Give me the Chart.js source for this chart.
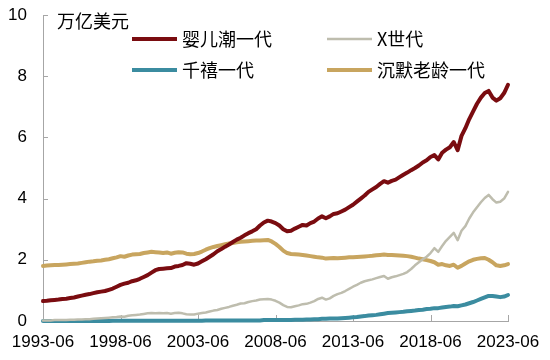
<!DOCTYPE html>
<html>
<head>
<meta charset="utf-8">
<script src="https://cdn.jsdelivr.net/npm/chart.js@4.4.0/dist/chart.umd.min.js"></script>
<style>
  html, body { margin: 0; padding: 0; background: #fff; }
  #wrap { width: 550px; height: 360px; }
</style>
</head>
<body>
<div id="wrap"><canvas id="mainChart" width="550" height="360"></canvas></div>
<script>
// --- Data (万亿美元, quarterly, 1993-06 .. 2023-06) ---
const FIRST_QUARTER = '1993-06';
const LAST_QUARTER = '2023-06';
const quarters = [];
for (let yr = 1993; yr <= 2023; yr++) {
  for (const m of ['03', '06', '09', '12']) {
    const q = yr + '-' + m;
    if (q >= FIRST_QUARTER && q <= LAST_QUARTER) quarters.push(q);
  }
}

const xTickLabels = ['1993-06', '1998-06', '2003-06', '2008-06', '2013-06', '2018-06', '2023-06'];
const yTickValues = [0, 2, 4, 6, 8, 10];
const unitLabel = '万亿美元';

const seriesNames = ['婴儿潮一代', 'X世代', '千禧一代', '沉默老龄一代'];

const babyBoomers = [
  0.65, 0.66, 0.68, 0.69,  0.70, 0.72, 0.73, 0.75,  0.77, 0.80, 0.83, 0.86,
  0.88, 0.91, 0.94, 0.96,  0.98, 1.02, 1.06, 1.12,  1.18, 1.22, 1.25, 1.30,
  1.33, 1.38, 1.44, 1.50,  1.58, 1.66, 1.70, 1.71,  1.72, 1.73, 1.78, 1.80,
  1.83, 1.89, 1.87, 1.84,  1.88, 1.95, 2.02, 2.10,  2.18, 2.28, 2.35, 2.43,
  2.50, 2.58, 2.66, 2.72,  2.80, 2.87, 2.93, 3.00,  3.12, 3.22, 3.28, 3.25,
  3.20, 3.12, 3.00, 2.93,  2.95, 3.02, 3.08, 3.14,  3.12, 3.20, 3.25, 3.35,
  3.42, 3.36, 3.42, 3.50,  3.52, 3.58, 3.64, 3.72,  3.80, 3.90, 4.00, 4.10,
  4.22, 4.30, 4.38, 4.48,  4.57, 4.52, 4.58, 4.62,  4.70, 4.78, 4.85, 4.93,
  5.00, 5.08, 5.18, 5.25,  5.36, 5.42, 5.28, 5.50,  5.60, 5.68, 5.85, 5.58,
  6.05, 6.30, 6.60, 6.85,  7.10, 7.30, 7.45, 7.52,  7.30, 7.20, 7.28, 7.45,
  7.72
];

const genX = [
  0.02, 0.02, 0.02, 0.03,  0.03, 0.03, 0.03, 0.04,  0.04, 0.05, 0.05, 0.06,
  0.06, 0.07, 0.08, 0.09,  0.10, 0.11, 0.12, 0.13,  0.15, 0.14, 0.17, 0.19,
  0.20, 0.21, 0.23, 0.25,  0.26, 0.25, 0.26, 0.25,  0.26, 0.24, 0.26, 0.27,
  0.25, 0.22, 0.21, 0.21,  0.24, 0.26, 0.28, 0.31,  0.34, 0.36, 0.40, 0.43,
  0.46, 0.50, 0.53, 0.57,  0.58, 0.62, 0.65, 0.67,  0.70, 0.71, 0.72, 0.70,
  0.66, 0.60, 0.52, 0.46,  0.45, 0.48, 0.51, 0.55,  0.56, 0.60, 0.65, 0.72,
  0.76, 0.70, 0.74, 0.82,  0.88, 0.92, 0.98, 1.05,  1.12, 1.18, 1.25, 1.30,
  1.33, 1.36, 1.40, 1.44,  1.47, 1.38, 1.43, 1.46,  1.50, 1.54, 1.60, 1.70,
  1.82, 1.92, 2.02, 2.10,  2.22, 2.38, 2.26, 2.45,  2.62, 2.75, 2.88, 2.64,
  2.95, 3.10, 3.35, 3.55,  3.72, 3.88, 4.02, 4.12,  3.98, 3.87, 3.90, 4.00,
  4.22
];

const millennials = [
  0.00, 0.00, 0.00, 0.00,  0.00, 0.00, 0.00, 0.00,  0.00, 0.00, 0.00, 0.00,
  0.00, 0.00, 0.00, 0.00,  0.00, 0.00, 0.01, 0.01,  0.01, 0.01, 0.01, 0.01,
  0.01, 0.01, 0.01, 0.01,  0.01, 0.01, 0.01, 0.01,  0.01, 0.01, 0.01, 0.01,
  0.01, 0.01, 0.01, 0.01,  0.01, 0.01, 0.02, 0.02,  0.02, 0.02, 0.02, 0.02,
  0.02, 0.02, 0.02, 0.02,  0.02, 0.02, 0.02, 0.02,  0.02, 0.03, 0.03, 0.03,
  0.03, 0.03, 0.03, 0.03,  0.03, 0.04, 0.04, 0.04,  0.05, 0.05, 0.06, 0.06,
  0.07, 0.07, 0.08, 0.08,  0.08, 0.09, 0.10, 0.11,  0.12, 0.13, 0.15, 0.16,
  0.18, 0.19, 0.20, 0.22,  0.24, 0.26, 0.27, 0.28,  0.29, 0.30, 0.32, 0.33,
  0.34, 0.36, 0.37, 0.39,  0.40, 0.42, 0.42, 0.44,  0.46, 0.47, 0.49, 0.48,
  0.51, 0.54, 0.58, 0.62,  0.67, 0.72, 0.77, 0.82,  0.82, 0.80, 0.78, 0.80,
  0.85
];

const silentGen = [
  1.80, 1.81, 1.82, 1.83,  1.83, 1.84, 1.85, 1.86,  1.87, 1.88, 1.90, 1.92,
  1.94, 1.95, 1.97, 1.98,  2.00, 2.02, 2.05, 2.08,  2.12, 2.10, 2.14, 2.17,
  2.18, 2.19, 2.22, 2.24,  2.26, 2.25, 2.24, 2.22,  2.24, 2.20, 2.23, 2.25,
  2.24, 2.20, 2.18, 2.19,  2.22, 2.27, 2.33, 2.38,  2.42, 2.45, 2.48, 2.51,
  2.53, 2.55, 2.57, 2.59,  2.60, 2.61, 2.62, 2.63,  2.63, 2.64, 2.65, 2.60,
  2.52, 2.42, 2.30, 2.22,  2.19, 2.18, 2.17, 2.16,  2.14, 2.12, 2.10, 2.08,
  2.07, 2.04, 2.05, 2.06,  2.05, 2.06, 2.07, 2.08,  2.08, 2.09, 2.10, 2.11,
  2.12, 2.13, 2.15, 2.16,  2.17, 2.16, 2.16, 2.15,  2.14, 2.13, 2.12, 2.10,
  2.07, 2.04, 2.02, 1.99,  1.96, 1.92, 1.84, 1.86,  1.82, 1.80, 1.84, 1.74,
  1.80, 1.88, 1.95, 2.00,  2.03, 2.05, 2.06, 2.00,  1.92, 1.82, 1.80, 1.82,
  1.86
];

// --- Styles ---
const COLORS = ['#7a0c10', '#bebdae', '#3b8ca0', '#c8a55f'];
const WIDTHS = [4, 2.5, 4, 4];
const AXIS_COLOR = '#a6a6a6';
const TICK_FONT = { family: '"Liberation Sans", Arial, sans-serif', size: 17 };
const CJK_FONT = '18px "Noto Sans CJK SC", sans-serif';

// legend slots: [x of sample start, y]
const LEGEND_SLOTS = [[132, 39], [327, 39], [132, 70], [327, 70]];

const decorPlugin = {
  id: 'decor',
  beforeDatasetsDraw(chart) {
    const { ctx, chartArea: a, scales } = chart;
    ctx.save();
    ctx.strokeStyle = AXIS_COLOR;
    ctx.lineWidth = 1;
    ctx.beginPath();
    scales.y.ticks.forEach(t => {
      const py = Math.round(scales.y.getPixelForValue(t.value)) + 0.5;
      ctx.moveTo(a.left, py); ctx.lineTo(a.left + 5, py);
    });
    scales.x.ticks.forEach(t => {
      const px = Math.round(scales.x.getPixelForValue(t.value)) + 0.5;
      ctx.moveTo(px, a.bottom); ctx.lineTo(px, a.bottom - 6);
    });
    ctx.stroke();
    ctx.restore();
  },
  afterDraw(chart) {
    const { ctx } = chart;
    ctx.save();
    ctx.font = CJK_FONT;
    ctx.fillStyle = '#000';
    ctx.textBaseline = 'middle';
    ctx.fillText(unitLabel, 57, 21);
    chart.data.datasets.forEach((ds, i) => {
      const [lx, ly] = LEGEND_SLOTS[i];
      ctx.strokeStyle = ds.borderColor;
      ctx.lineWidth = ds.borderWidth;
      ctx.beginPath();
      ctx.moveTo(lx, ly); ctx.lineTo(lx + 45, ly);
      ctx.stroke();
      ctx.fillText(ds.label, lx + 50, ly);
    });
    ctx.restore();
  }
};

const seriesData = [babyBoomers, genX, millennials, silentGen];

new Chart(document.getElementById('mainChart').getContext('2d'), {
  type: 'line',
  data: {
    labels: quarters,
    datasets: seriesNames.map((name, i) => ({
      label: name,
      data: seriesData[i],
      borderColor: COLORS[i],
      borderWidth: WIDTHS[i],
      pointRadius: 0,
      tension: 0,
      fill: false,
      clip: 6,
      borderJoinStyle: 'round',
      borderCapStyle: 'round'
    }))
  },
  options: {
    responsive: false,
    animation: false,
    layout: { padding: { top: 15, right: 42, left: 0, bottom: 0 } },
    plugins: { legend: { display: false }, tooltip: { enabled: false } },
    scales: {
      x: {
        type: 'category',
        offset: false,
        grid: { display: false, drawTicks: false },
        border: { display: true, color: AXIS_COLOR, width: 1 },
        afterBuildTicks: scale => {
          scale.ticks = xTickLabels.map(l => ({ value: quarters.indexOf(l) }));
        },
        afterFit: scale => {
          scale.height = 39;
          scale.paddingLeft = 0;
          scale.paddingRight = 0;
        },
        ticks: {
          autoSkip: false,
          maxRotation: 0,
          padding: 11,
          color: '#000',
          font: TICK_FONT,
          callback: v => quarters[v]
        }
      },
      y: {
        min: 0,
        max: 10,
        grid: { display: false, drawTicks: false },
        border: { display: true, color: AXIS_COLOR, width: 1 },
        afterBuildTicks: scale => {
          scale.ticks = yTickValues.map(v => ({ value: v }));
        },
        afterFit: scale => {
          scale.width = 43;
          scale.paddingTop = 0;
          scale.paddingBottom = 0;
        },
        ticks: { padding: 16, color: '#000', font: TICK_FONT }
      }
    }
  },
  plugins: [decorPlugin]
});
</script>
</body>
</html>
